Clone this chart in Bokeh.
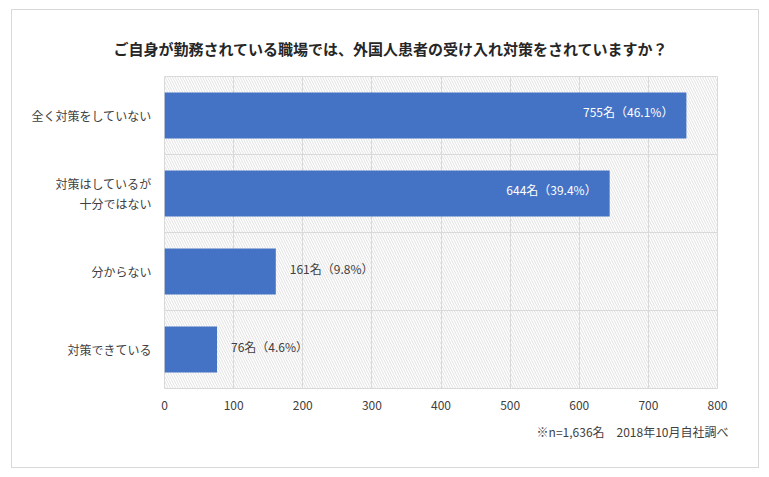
from bokeh.plotting import figure
from bokeh.models import FactorRange, Range1d, FixedTicker, BoxAnnotation, Title, ColumnDataSource
from bokeh.core.properties import value
from bokeh.embed import file_html
from bokeh.resources import INLINE

title_text = "ご自身が勤務されている職場では、外国人患者の受け入れ対策をされていますか？"
categories = ["全く対策をしていない", "対策はしているが\n十分ではない", "分からない", "対策できている"]
counts = [755, 644, 161, 76]
percents = ["46.1%", "39.4%", "9.8%", "4.6%"]
x_ticks = [0, 100, 200, 300, 400, 500, 600, 700, 800]
note_text = "※n=1,636名　2018年10月自社調べ"

FONT = "Noto Sans CJK JP"
TXT = "#404040"

labels = [f"{c}名（{p}）" for c, p in zip(counts, percents)]
inside = [c > 400 for c in counts]

p = figure(width=748, height=459, output_backend="svg", toolbar_location=None,
           y_range=FactorRange(factors=list(reversed(categories)), range_padding=0),
           x_range=Range1d(0, 800),
           min_border_left=152, min_border_right=43, min_border_top=66, min_border_bottom=81,
           margin=(9, 0, 0, 11),
           styles={"border": "1px solid #d9d9d9", "box-sizing": "border-box"})
p.outline_line_color = "#d9d9d9"
p.background_fill_color = "white"

p.title.text = title_text
p.title.align = "left"
p.title.offset = -51
p.title.standoff = 35
p.title.text_font = FONT
p.title.text_font_size = "15px"
p.title.text_font_style = "bold"
p.title.text_color = "#262626"

bg = BoxAnnotation(fill_alpha=0, line_alpha=0, hatch_pattern="left_diagonal_line",
                   hatch_color="#d9d9d9", hatch_scale=5, hatch_weight=0.8, level="image")
p.add_layout(bg)

p.xgrid.ticker = FixedTicker(ticks=x_ticks)
p.xgrid.grid_line_color = "#d9d9d9"
p.xgrid.level = "underlay"
p.ygrid.ticker = FixedTicker(ticks=[1, 2, 3])
p.ygrid.grid_line_color = "#d9d9d9"
p.ygrid.level = "underlay"

src_in = ColumnDataSource(dict(
    y=[c for c, i in zip(categories, inside) if i],
    x=[v for v, i in zip(counts, inside) if i],
    t=[l for l, i in zip(labels, inside) if i]))
src_out = ColumnDataSource(dict(
    y=[c for c, i in zip(categories, inside) if not i],
    x=[v for v, i in zip(counts, inside) if not i],
    t=[l for l, i in zip(labels, inside) if not i]))

p.hbar(y=categories, right=counts, left=0, height=0.59, color="#4472C4", line_color=None)

p.text(x="x", y="y", text="t", source=src_in, text_align="right", text_baseline="middle",
       x_offset=-13, y_offset=-4, text_color="white", text_font=value(FONT), text_font_size="12px")
p.text(x="x", y="y", text="t", source=src_out, text_align="left", text_baseline="middle",
       x_offset=14, y_offset=-3, text_color=TXT, text_font=value(FONT), text_font_size="12px")

p.xaxis.ticker = FixedTicker(ticks=x_ticks)
p.xaxis.axis_line_color = None
p.xaxis.major_tick_line_color = None
p.xaxis.major_tick_out = 0
p.xaxis.minor_tick_line_color = None
p.xaxis.major_label_standoff = 12
p.xaxis.major_label_text_font = FONT
p.xaxis.major_label_text_font_size = "12px"
p.xaxis.major_label_text_color = TXT

p.yaxis.axis_line_color = None
p.yaxis.major_tick_line_color = None
p.yaxis.major_tick_out = 0
p.yaxis.major_label_standoff = 13
p.yaxis.major_label_text_font = FONT
p.yaxis.major_label_text_font_size = "12px"
p.yaxis.major_label_text_color = TXT

note = Title(text=note_text, align="right", offset=-11, standoff=17,
             text_font=FONT, text_font_size="12px", text_font_style="normal", text_color=TXT)
p.add_layout(note, "below")

open("out.html", "w").write(file_html(p, INLINE))
